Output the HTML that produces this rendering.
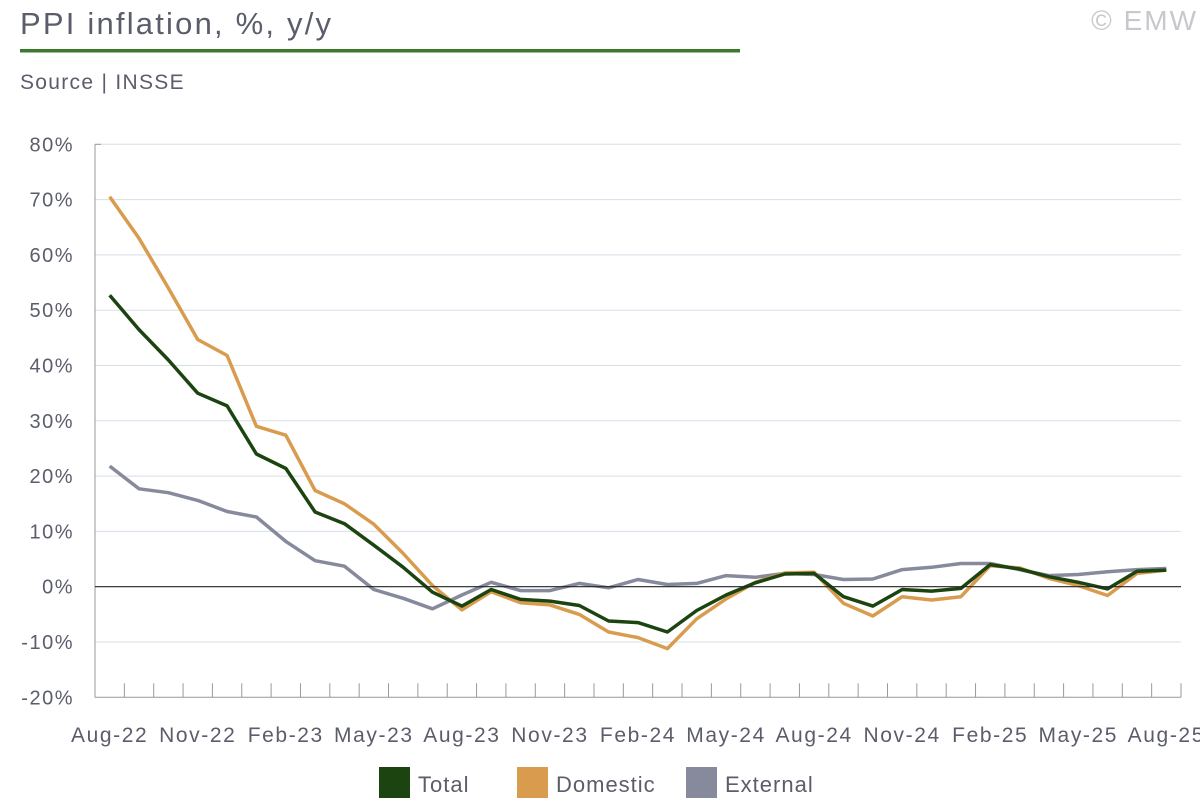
<!DOCTYPE html>
<html><head><meta charset="utf-8"><style>
body{margin:0;background:#fff;width:1200px;height:800px;overflow:hidden;font-family:"Liberation Sans",sans-serif}
</style></head><body>
<svg id="s" width="1200" height="800" xmlns="http://www.w3.org/2000/svg" font-family="Liberation Sans, sans-serif">
<text x="20" y="34" font-size="31" fill="#5b5d6b" letter-spacing="2.2">PPI inflation, %, y/y</text>
<text x="1198" y="30" font-size="28" fill="#c8c8cc" text-anchor="end" letter-spacing="2">© EMW</text>
<rect x="20" y="49" width="720" height="3.5" fill="#3b7a2c"/>
<text x="20" y="89" font-size="21" fill="#5b5d6b" letter-spacing="1.3">Source | INSSE</text>
<g id="g"></g>
</svg>
<script>
const g=document.getElementById('g');let h='';
const X0=95,X1=1181,W=(X1-X0)/37,Y=v=>586.7-v*5.53;
for(let v=-20;v<=80;v+=10){const y=Y(v);
 if(v!==0&&v!==-20)h+=`<line x1="${X0}" x2="${X1}" y1="${y}" y2="${y}" stroke="#d5dfe8" stroke-width="1"/>`;
 h+=`<text x="74" y="${y+7}" font-size="20" fill="#5b5d6b" text-anchor="end" letter-spacing="1.5">${v}%</text>`;}
h+=`<line x1="${X0}" x2="${X1}" y1="${Y(-20)}" y2="${Y(-20)}" stroke="#999" stroke-width="1"/>`;
h+=`<line x1="${X0}" x2="${X0}" y1="${Y(80)}" y2="${Y(-20)}" stroke="#999" stroke-width="1"/>`;
h+=`<line x1="${X0}" x2="${X0+6}" y1="${Y(80)}" y2="${Y(80)}" stroke="#999"/>`;
for(let i=0;i<=37;i++){const x=X0+i*W;h+=`<line x1="${x}" x2="${x}" y1="${Y(-20)-14}" y2="${Y(-20)}" stroke="#999"/>`;}
const labs=['Aug-22','Nov-22','Feb-23','May-23','Aug-23','Nov-23','Feb-24','May-24','Aug-24','Nov-24','Feb-25','May-25','Aug-25'];
labs.forEach((l,k)=>{h+=`<text x="${X0+(k*3+0.5)*W}" y="742" font-size="21" fill="#5b5d6b" text-anchor="middle" letter-spacing="1.6">${l}</text>`;});
const T=[52.7,46.5,41,35,32.7,24,21.4,13.5,11.4,7.5,3.5,-1,-3.5,-0.5,-2.3,-2.6,-3.4,-6.2,-6.5,-8.2,-4.3,-1.5,0.7,2.3,2.4,-1.8,-3.5,-0.5,-0.8,-0.3,4,3.2,1.8,0.8,-0.4,2.8,3];
const D=[70.5,63,54,44.7,41.8,29,27.4,17.4,15,11.3,6,0.2,-4.2,-0.9,-2.9,-3.3,-5,-8.2,-9.2,-11.2,-5.8,-2.2,0.8,2.5,2.6,-3,-5.3,-1.8,-2.4,-1.8,3.8,3.4,1.5,0.2,-1.6,2.4,3];
const E=[21.8,17.7,17,15.6,13.6,12.6,8.2,4.7,3.7,-0.5,-2.1,-4,-1.5,0.8,-0.7,-0.7,0.6,-0.2,1.3,0.4,0.6,2,1.7,2.4,2.2,1.3,1.4,3.1,3.5,4.2,4.2,3.1,2,2.2,2.7,3.1,3.3];
const pl=(a,c)=>`<polyline fill="none" stroke="${c}" stroke-width="3.5" stroke-linejoin="round" points="${a.map((v,i)=>(X0+(i+0.5)*W).toFixed(1)+','+Y(v).toFixed(1)).join(' ')}"/>`;
h+=pl(E,'#878a9c')+pl(D,'#d99c4f')+pl(T,'#1c4410');
h+=`<line x1="${X0}" x2="${X1}" y1="${Y(0)}" y2="${Y(0)}" stroke="#222" stroke-width="1.2"/>`;
[['Total','#1c4410',379],['Domestic','#d99c4f',517],['External','#878a9c',686]].forEach(([n,c,x])=>{
 h+=`<rect x="${x}" y="767" width="31" height="31" fill="${c}"/><text x="${x+39}" y="792" font-size="22" fill="#5b5d6b" letter-spacing="1">${n}</text>`;});
g.innerHTML=h;
</script>
</body></html>
